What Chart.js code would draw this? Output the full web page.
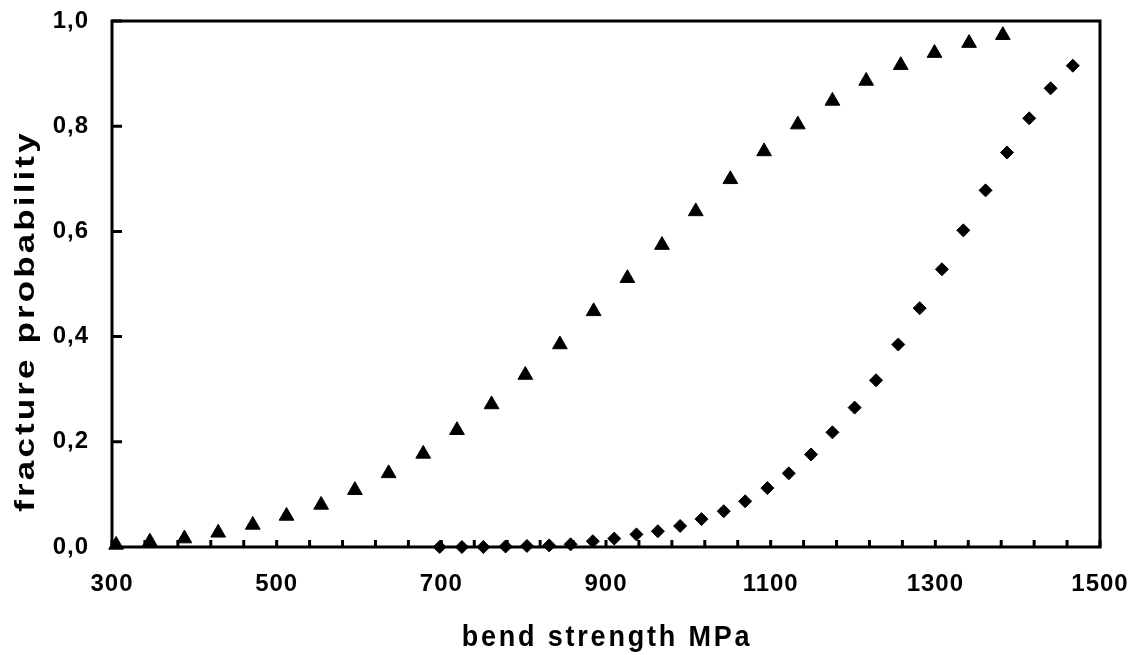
<!DOCTYPE html>
<html>
<head>
<meta charset="utf-8">
<script src="https://cdn.jsdelivr.net/npm/chart.js"></script>
<style>
  html, body { margin: 0; padding: 0; background: #fff; }
</style>
</head>
<body>
<canvas id="chart" width="1133" height="655"></canvas>
<script>
// data
const triangleX = [305, 346, 388, 429, 471, 512, 554, 595, 636, 678, 719, 761, 802, 844, 885, 926, 968, 1009, 1051, 1092, 1133, 1175, 1216, 1258, 1299, 1341, 1382]
const triangleY = [0.004, 0.010, 0.016, 0.027, 0.042, 0.059, 0.080, 0.108, 0.140, 0.177, 0.222, 0.271, 0.327, 0.385, 0.448, 0.511, 0.574, 0.638, 0.699, 0.752, 0.803, 0.848, 0.886, 0.916, 0.939, 0.958, 0.973]
const diamondX = [698, 725, 751, 778, 804, 831, 857, 884, 910, 937, 963, 990, 1016, 1043, 1069, 1096, 1122, 1149, 1175, 1202, 1228, 1255, 1281, 1308, 1334, 1361, 1387, 1414, 1440, 1467]
const diamondY = [0.000, 0.000, 0.000, 0.001, 0.002, 0.003, 0.005, 0.011, 0.016, 0.024, 0.030, 0.040, 0.053, 0.068, 0.087, 0.112, 0.140, 0.176, 0.218, 0.265, 0.317, 0.385, 0.454, 0.528, 0.602, 0.678, 0.750, 0.815, 0.872, 0.915]

const xTickLabels = ['300', '500', '700', '900', '1100', '1300', '1500']
const yTickLabels = ['0,0', '0,2', '0,4', '0,6', '0,8', '1,0']
const xTitle = 'bend strength MPa'
const yTitle = 'fracture probability'

const FONT = '"Liberation Sans", Arial, sans-serif'

function toPoints (xs, ys) {
  return xs.map((x, i) => ({ x: x, y: ys[i] }))
}

// frame, inward ticks and axis titles
const framePlugin = {
  id: 'frame',
  beforeDraw (chart) {
    chart.ctx.letterSpacing = '1px'
  },
  beforeDatasetsDraw (chart) {
    const { ctx, chartArea: a, scales } = chart
    ctx.save()
    ctx.strokeStyle = '#000'
    ctx.lineWidth = 3
    ctx.strokeRect(a.left, a.top, a.right - a.left, a.bottom - a.top)
    ctx.beginPath()
    scales.x.ticks.forEach(t => {
      const px = scales.x.getPixelForValue(t.value)
      ctx.moveTo(px, a.bottom)
      ctx.lineTo(px, a.bottom - 7)
    })
    scales.y.ticks.forEach(t => {
      const py = scales.y.getPixelForValue(t.value)
      ctx.moveTo(a.left, py)
      ctx.lineTo(a.left + 10, py)
    })
    ctx.stroke()
    ctx.restore()
  },
  afterDraw (chart) {
    const { ctx, chartArea: a } = chart
    ctx.save()
    ctx.fillStyle = '#000'
    ctx.textAlign = 'center'
    ctx.textBaseline = 'alphabetic'
    ctx.letterSpacing = '2.8px'
    ctx.font = 'bold 27px ' + FONT
    ctx.translate((a.left + a.right) / 2 + 1, 646)
    ctx.scale(1, 1.1)
    ctx.fillText(xTitle, 0, 0)
    ctx.restore()

    ctx.save()
    ctx.fillStyle = '#000'
    ctx.textAlign = 'center'
    ctx.textBaseline = 'alphabetic'
    ctx.letterSpacing = '2.5px'
    ctx.font = 'bold 28px ' + FONT
    ctx.translate(34, 321)
    ctx.rotate(-Math.PI / 2)
    ctx.scale(1.25, 1)
    ctx.fillText(yTitle, 0, 0)
    ctx.restore()
  }
}

const ctx = document.getElementById('chart').getContext('2d')
new Chart(ctx, {
  type: 'scatter',
  data: {
    datasets: [
      {
        label: 'triangles',
        data: toPoints(triangleX, triangleY),
        pointStyle: 'triangle',
        pointRadius: 8.5,
        pointBorderWidth: 1,
        backgroundColor: '#000',
        borderColor: '#000',
        clip: false
      },
      {
        label: 'diamonds',
        data: toPoints(diamondX, diamondY),
        pointStyle: 'rectRot',
        pointRadius: 6.5,
        pointBorderWidth: 1,
        backgroundColor: '#000',
        borderColor: '#000',
        clip: false
      }
    ]
  },
  options: {
    responsive: false,
    animation: false,
    devicePixelRatio: 1,
    layout: { padding: { left: 0, top: 21, right: 33, bottom: 0 } },
    plugins: {
      legend: { display: false },
      tooltip: { enabled: false }
    },
    scales: {
      x: {
        type: 'linear',
        min: 300,
        max: 1500,
        grid: { display: false, drawTicks: false },
        border: { display: false },
        ticks: {
          stepSize: 40,
          autoSkip: false,
          maxRotation: 0,
          minRotation: 0,
          padding: 23,
          color: '#000',
          font: { family: FONT, size: 24, weight: 'bold' },
          callback: v => {
            const s = String(Math.round(v))
            return xTickLabels.includes(s) ? s : ''
          }
        },
        afterFit: s => {
          s.height = 108
          s.paddingLeft = 0
          s.paddingRight = 0
        }
      },
      y: {
        type: 'linear',
        min: 0,
        max: 1,
        grid: { display: false, drawTicks: false },
        border: { display: false },
        ticks: {
          stepSize: 0.2,
          padding: 23,
          color: '#000',
          font: { family: FONT, size: 24, weight: 'bold' },
          callback: (v, i) => yTickLabels[i]
        },
        afterFit: s => {
          s.width = 112
          s.paddingTop = 0
          s.paddingBottom = 0
        }
      }
    }
  },
  plugins: [framePlugin]
})
</script>
</body>
</html>
